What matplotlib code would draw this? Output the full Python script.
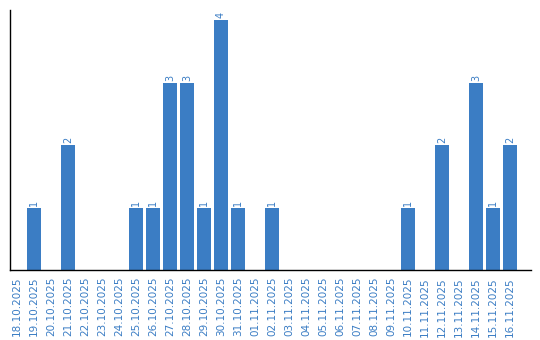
import matplotlib
matplotlib.use("Agg")
import matplotlib.pyplot as plt

dates = ["18.10.2025", "19.10.2025", "20.10.2025", "21.10.2025", "22.10.2025",
         "23.10.2025", "24.10.2025", "25.10.2025", "26.10.2025", "27.10.2025",
         "28.10.2025", "29.10.2025", "30.10.2025", "31.10.2025", "01.11.2025",
         "02.11.2025", "03.11.2025", "04.11.2025", "05.11.2025", "06.11.2025",
         "07.11.2025", "08.11.2025", "09.11.2025", "10.11.2025", "11.11.2025",
         "12.11.2025", "13.11.2025", "14.11.2025", "15.11.2025", "16.11.2025"]
counts = [0, 1, 0, 2, 0, 0, 0, 1, 1, 3, 3, 1, 4, 1, 0,
          1, 0, 0, 0, 0, 0, 0, 0, 1, 0, 2, 0, 3, 1, 2]

blue = "#3b7dc4"

fig = plt.figure(figsize=(5.4, 3.4), dpi=100)
ax = fig.add_axes([10 / 540, 70 / 340, 521 / 540, 260 / 340])

x = list(range(len(dates)))
ax.bar(x, counts, width=0.82, color=blue)

for xi, c in zip(x, counts):
    if c > 0:
        ax.text(xi, c + 0.03, str(c), rotation=90, ha="center", va="bottom",
                color=blue, fontsize=7)

ax.set_xlim(-0.41, 30.24)
ax.set_ylim(0, 4.16)
ax.set_xticks(x)
ax.set_xticklabels(dates, rotation=90, color=blue, fontsize=7.5)
ax.tick_params(axis="x", length=0, pad=5)
ax.set_yticks([])
for s in ["top", "right"]:
    ax.spines[s].set_visible(False)
ax.spines["left"].set_linewidth(1)
ax.spines["bottom"].set_linewidth(1)

fig.savefig("out.png", dpi=100)
